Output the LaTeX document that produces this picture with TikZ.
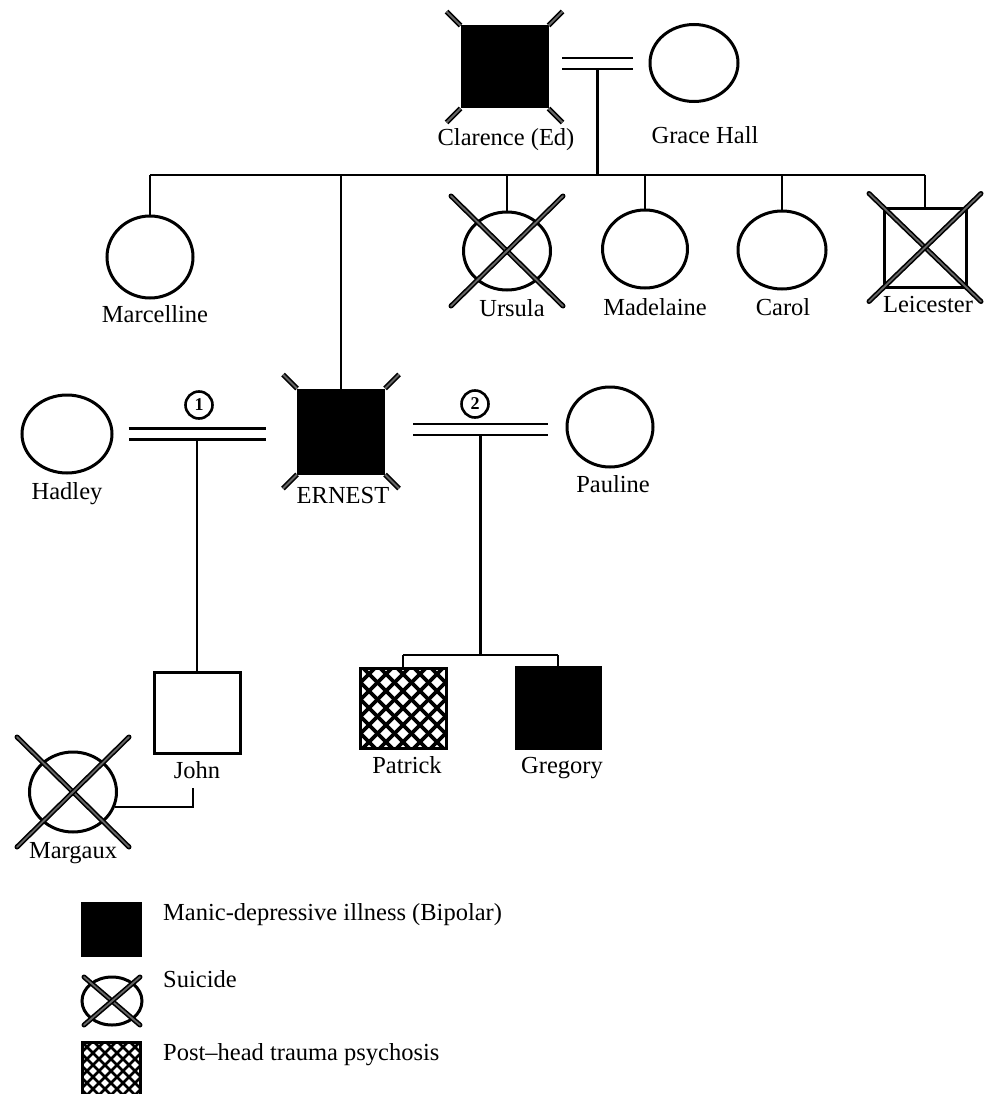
\documentclass[tikz,border=0pt]{standalone}
\usepackage{fontspec}
\setmainfont{Liberation Serif}
\usetikzlibrary{calc,shapes.geometric}

\tikzset{
  person/.style={draw, line width=3pt, inner sep=0pt},
  sq/.style={person, rectangle},
  circ/.style={person, ellipse},
  bipolar/.style={fill=black},
  hatched/.style 2 args={path picture={
    \foreach \k in {-7,...,7} {
      \draw[line width=#2] ($(path picture bounding box.center)+(\k*#1-70,-70)$) -- ++(140,140);
      \draw[line width=#2] ($(path picture bounding box.center)+(\k*#1-70,70)$) -- ++(140,-140);
    }}},
  lbl/.style={anchor=base, inner sep=0pt},
  link/.style={line width=2.3pt},
  marr/.style={double, double distance=8.5pt, line width=2.6pt},
  xline/.style={double=black!60, double distance=1.8pt, line width=1.6pt, line cap=round},
  tick/.style={double=black!60, double distance=1.8pt, line width=1.6pt},
  num/.style={circle, draw, line width=2.6pt, minimum size=27pt, inner sep=0pt, font=\fontsize{18}{18}\selectfont\bfseries}
}
\def\crossout(#1)(#2,#3){%
  \draw[xline] ($(#1)+(-#2,-#3)$) -- ($(#1)+(#2,#3)$);
  \draw[xline] ($(#1)+(#2,-#3)$) -- ($(#1)+(-#2,#3)$);}
\def\bipticks(#1){%
  \draw[tick] (#1.north west) -- ++(-14,-14);
  \draw[tick] (#1.north east) -- ++(14,-14);
  \draw[tick] (#1.south west) -- ++(-14,14);
  \draw[tick] (#1.south east) -- ++(14,14);}

\begin{document}
\begin{tikzpicture}[x=1pt, y=-1pt, font=\fontsize{24.5}{29}\selectfont]
  \useasboundingbox (0,0) rectangle (988,1094);

  %%%%% parents %%%%%
  \node[sq, bipolar, minimum width=85pt, minimum height=80pt] (clarence) at (504.5,67) {};
  \node[circ, minimum width=88pt, minimum height=77pt] (grace) at (694,63) {};
  \bipticks(clarence)
  \node[lbl] (clarenceL) at (506,146) {Clarence (Ed)};
  \node[lbl] (graceL) at (705,144) {Grace Hall};

  \coordinate (mar0) at (597.5,63.5);
  \coordinate (sib1) at (597.5,175);
  \draw[marr] ($(mar0)+(-35.5,0)$) -- ($(mar0)+(35.5,0)$);
  \draw[link] ($(mar0)+(0,6)$) -- (sib1);

  %%%%% children %%%%%
  \node[circ, minimum width=86pt, minimum height=82pt] (marcelline) at (150,257) {};
  \node[circ, minimum width=87pt, minimum height=78pt] (ursula) at (507,251) {};
  \node[circ, minimum width=85pt, minimum height=78pt] (madelaine) at (645,249) {};
  \node[circ, minimum width=88pt, minimum height=78pt] (carol) at (782,250) {};
  \node[sq, minimum width=82pt, minimum height=79pt] (leicester) at (925,247.5) {};
  \node[sq, bipolar, minimum width=85pt, minimum height=83pt] (ernest) at (341,431.5) {};
  \crossout(ursula)(56,55)
  \crossout(leicester)(56,54)
  \bipticks(ernest)

  \draw[link] (marcelline |- sib1) -- (leicester |- sib1);
  \foreach \c in {marcelline,ursula,madelaine,carol,leicester,ernest}
    \draw[link] (\c |- sib1) -- (\c.north);

  \node[lbl] (marcellineL) at (155,322) {Marcelline};
  \node[lbl] (ursulaL) at (512,316) {Ursula};
  \node[lbl] (madelaineL) at (655,315) {Madelaine};
  \node[lbl] (carolL) at (783,315) {Carol};
  \node[lbl] (leicesterL) at (928,312) {Leicester};
  \node[lbl] (ernestL) at (343,503) {ERNEST};

  %%%%% Ernest's marriages %%%%%
  \node[circ, minimum width=90pt, minimum height=78pt] (hadley) at (67,434) {};
  \node[circ, minimum width=86pt, minimum height=80pt] (pauline) at (610,427) {};
  \node[lbl] (hadleyL) at (67,499) {Hadley};
  \node[lbl] (paulineL) at (613,492) {Pauline};

  \coordinate (mar1) at (197,434);
  \coordinate (mar2) at (480.5,429.5);
  \draw[marr] ($(mar1)+(-68.5,0)$) -- ($(mar1)+(68.5,0)$);
  \draw[marr] ($(mar2)+(-67.5,0)$) -- ($(mar2)+(67.5,0)$);
  \node[num] (num1) at (199,405) {1};
  \node[num] (num2) at (475,404) {2};

  %%%%% grandchildren %%%%%
  \node[sq, minimum width=86pt, minimum height=81pt] (john) at (197,712.5) {};
  \node[sq, hatched={17}{3.6pt}, minimum width=86pt, minimum height=80pt] (patrick) at (403,708) {};
  \node[sq, bipolar, minimum width=84pt, minimum height=81pt] (gregory) at (558,707.5) {};
  \node[circ, minimum width=87pt, minimum height=80pt] (margaux) at (73,792) {};
  \crossout(margaux)(56,55)

  \draw[link] ($(mar1)+(0,6)$) -- (john.north);
  \coordinate (sib2) at (480.5,655);
  \draw[link] ($(mar2)+(0,6)$) -- (sib2);
  \draw[link] (patrick.north |- sib2) -- (gregory.north |- sib2);
  \draw[link] (patrick.north |- sib2) -- (patrick.north);
  \draw[link] (gregory.north |- sib2) -- (gregory.north);

  \coordinate (jend) at (193,788);
  \draw[link] (margaux.-20) -| (jend);

  \node[lbl] (johnL) at (197,778) {John};
  \node[lbl] (patrickL) at (407,773) {Patrick};
  \node[lbl] (gregoryL) at (562,773) {Gregory};
  \node[lbl] (margauxL) at (73,858) {Margaux};

  %%%%% legend %%%%%
  \node[sq, bipolar, minimum width=58pt, minimum height=52pt] (legbip) at (111,929) {};
  \node[circ, minimum width=60pt, minimum height=48pt] (legsui) at (112,1001) {};
  \crossout(legsui)(28,24)
  \node[sq, hatched={12}{2.8pt}, minimum width=58pt, minimum height=58pt] (leghat) at (111,1071) {};
  \node[lbl, anchor=base west] (legbipL) at (163,920) {Manic-depressive illness (Bipolar)};
  \node[lbl, anchor=base west] (legsuiL) at (163,987) {Suicide};
  \node[lbl, anchor=base west] (leghatL) at (163,1060) {Post–head trauma psychosis};
\end{tikzpicture}
\end{document}
